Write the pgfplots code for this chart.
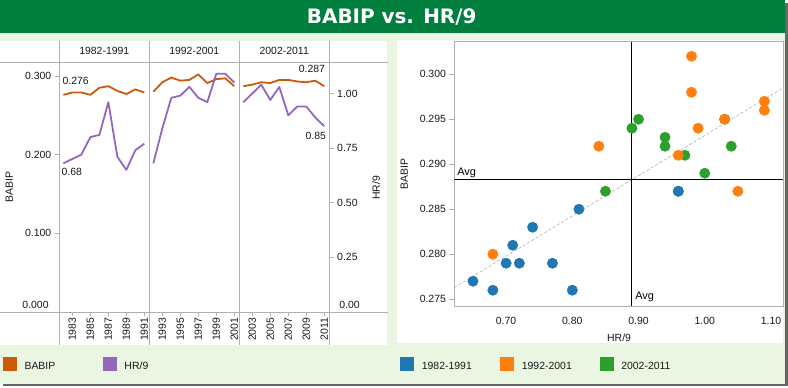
\documentclass[border=0pt]{standalone}
\usepackage{pgfplots}
\usepackage{pgfplotstable}
\pgfplotsset{compat=1.18}
\usepackage{fontspec}
\setmainfont{Liberation Sans}
\newfontfamily\titlefont{DejaVu Sans}

\definecolor{hdr}{RGB}{0,127,62}
\definecolor{bgc}{RGB}{234,246,225}
\definecolor{babipc}{RGB}{204,90,10}
\definecolor{hrc}{RGB}{148,103,189}
\definecolor{tblue}{RGB}{31,119,180}
\definecolor{torange}{RGB}{255,127,14}
\definecolor{tgreen}{RGB}{44,160,44}
\definecolor{linec}{RGB}{176,176,176}
\definecolor{txt}{RGB}{25,25,25}
\definecolor{trend}{RGB}{185,185,185}

\pgfplotstableread{
year babip hr
1982 0.276 0.68
1983 0.279 0.70
1984 0.279 0.72
1985 0.276 0.80
1986 0.285 0.81
1987 0.287 0.96
1988 0.281 0.71
1989 0.277 0.65
1990 0.283 0.74
1991 0.279 0.77
}\dataA
\pgfplotstableread{
year babip hr
1992 0.280 0.68
1993 0.292 0.84
1994 0.298 0.98
1995 0.294 0.99
1996 0.295 1.03
1997 0.302 0.98
1998 0.291 0.96
1999 0.296 1.09
2000 0.297 1.09
2001 0.287 1.05
}\dataB
\pgfplotstableread{
year babip hr
2002 0.287 0.96
2003 0.289 1.00
2004 0.292 1.04
2005 0.291 0.97
2006 0.295 1.03
2007 0.295 0.90
2008 0.293 0.94
2009 0.292 0.94
2010 0.294 0.89
2011 0.287 0.85
}\dataC

\newcommand{\fs}{\fontsize{10.5}{12}\selectfont}

\pgfplotsset{
  facet/.style={scale only axis, width=90bp, height=250bp, anchor=south west,
    ymin=0, axis line style={draw=none}, tick align=outside,
    tick style={linec, line width=0.7bp}, major tick length=4.5bp,
    ticklabel style={font=\fs, text=txt}, clip=false},
  babipax/.style={facet, ymax=0.3178, xtick pos=bottom,
    x tick label style={rotate=90, anchor=east, inner sep=1bp}},
  hrax/.style={facet, ymax=1.144, xtick=\empty},
  bline/.style={babipc, line width=1.8bp, line join=round},
  hline/.style={hrc, line width=1.8bp, line join=round},
}

\begin{document}
\begin{tikzpicture}
% background
\fill[white] (0,0) rectangle (788bp,-388bp);
\fill[bgc] (0,0) rectangle (785bp,-384bp);
\fill[black!60] (785bp,-3bp) rectangle (788bp,-386bp);
\fill[black!60] (3bp,-384bp) rectangle (788bp,-386bp);
\fill[hdr] (0,0) rectangle (785bp,-33bp);
\node[anchor=base, font=\titlefont\bfseries\fontsize{20}{24}\selectfont, text=white, inner sep=0] at (391.5bp,-24bp) {BABIP vs. HR/9};
% panels
\fill[white] (0,-41bp) rectangle (387bp,-345bp);
\fill[white] (397bp,-40bp) rectangle (783.3bp,-343bp);
\draw[linec, line width=0.7bp] (0,-62bp) -- (388bp,-62bp) (0,-312bp) -- (388bp,-312bp);
\foreach \x in {59,149,239,329} \draw[linec, line width=0.7bp] (\x bp,-41bp) -- (\x bp,-345bp);
% facet headers
\foreach \x/\t in {104/1982-1991,194/1992-2001,284/2002-2011}
  \node[anchor=base, font=\fs, text=txt, inner sep=0] at (\x bp,-55bp) {\t};
% axis titles
\node[rotate=90, font=\fs, text=txt] at (9bp,-187.5bp) {BABIP};
\node[rotate=90, font=\fs, text=txt] at (376bp,-188bp) {HR/9};
\node[anchor=base east, font=\fs, text=txt, inner sep=0] at (48.5bp,-309bp) {0.000};
\node[anchor=base west, font=\fs, text=txt, inner sep=0] at (339bp,-309bp) {0.00};

% ---- facet 1
\begin{axis}[babipax, at={(59bp,-312bp)}, xmin=1981.55, xmax=1991.55,
  xtick={1983,1985,1987,1989,1991}, xticklabels={1983,1985,1987,1989,1991},
  ytick={0.1,0.2,0.3}, yticklabels={0.100,0.200,0.300}, ytick pos=left]
\addplot[bline] table[x=year,y=babip]{\dataA};
\node[anchor=south west, inner sep=0, font=\fs, text=txt, yshift=10bp, xshift=-1bp] at (axis cs:1982,0.276) {0.276};
\end{axis}
\begin{axis}[hrax, at={(59bp,-312bp)}, xmin=1981.55, xmax=1991.55, ytick=\empty]
\addplot[hline] table[x=year,y=hr]{\dataA};
\node[anchor=north west, inner sep=0, font=\fs, text=txt, yshift=-5bp, xshift=-2bp] at (axis cs:1982,0.68) {0.68};
\end{axis}
% ---- facet 2
\begin{axis}[babipax, at={(149bp,-312bp)}, xmin=1991.55, xmax=2001.55,
  xtick={1993,1995,1997,1999,2001}, xticklabels={1993,1995,1997,1999,2001},
  ytick=\empty]
\addplot[bline] table[x=year,y=babip]{\dataB};
\end{axis}
\begin{axis}[hrax, at={(149bp,-312bp)}, xmin=1991.55, xmax=2001.55, ytick=\empty]
\addplot[hline] table[x=year,y=hr]{\dataB};
\end{axis}
% ---- facet 3
\begin{axis}[babipax, at={(239bp,-312bp)}, xmin=2001.55, xmax=2011.55,
  xtick={2003,2005,2007,2009,2011}, xticklabels={2003,2005,2007,2009,2011},
  ytick=\empty]
\addplot[bline] table[x=year,y=babip]{\dataC};
\node[anchor=south east, inner sep=0, font=\fs, text=txt, yshift=13bp, xshift=1bp] at (axis cs:2011,0.287) {0.287};
\end{axis}
\begin{axis}[hrax, at={(239bp,-312bp)}, xmin=2001.55, xmax=2011.55,
  ytick={0.25,0.5,0.75,1}, yticklabels={0.25,0.50,0.75,1.00}, ytick pos=right, yticklabel pos=right]
\addplot[hline] table[x=year,y=hr]{\dataC};
\node[anchor=north east, inner sep=0, font=\fs, text=txt, yshift=-5.5bp, xshift=2bp] at (axis cs:2011,0.85) {0.85};
\end{axis}

% ---- scatter
\begin{axis}[scale only axis, at={(454.3bp,-306bp)}, anchor=south west, width=329bp, height=264.3bp,
  xmin=0.622, xmax=1.1186, ymin=0.27426, ymax=0.30362,
  axis line style={linec, line width=0.7bp},
  xtick={0.7,0.8,0.9,1.0,1.1}, xticklabels={0.70,0.80,0.90,1.00,1.10},
  ytick={0.275,0.28,0.285,0.29,0.295,0.3}, yticklabels={0.275,0.280,0.285,0.290,0.295,0.300},
  tick align=outside, ytick pos=left, xtick pos=bottom,
  x tick style={draw=none}, y tick style={linec, line width=0.7bp}, major tick length=5bp,
  ticklabel style={font=\fs, text=txt}, x tick label style={yshift=-2.5bp}]
\addplot[trend, dash pattern=on 3bp off 2bp, line width=0.7bp] coordinates {(0.622,0.2763) (1.1186,0.2985)};
\addplot[black, line width=1bp] coordinates {(0.622,0.28833) (1.1186,0.28833)};
\addplot[black, line width=1bp] coordinates {(0.8899,0.27426) (0.8899,0.30362)};
\addplot[tgreen, only marks, mark=*, mark size=5.2bp] table[x=hr,y=babip]{\dataC};
\addplot[torange, only marks, mark=*, mark size=5.2bp] table[x=hr,y=babip]{\dataB};
\addplot[tblue, only marks, mark=*, mark size=5.2bp] table[x=hr,y=babip]{\dataA};
\end{axis}
\node[anchor=base west, font=\fontsize{11}{13}\selectfont, text=black, inner sep=0] at (457bp,-175.5bp) {Avg};
\node[anchor=base west, font=\fontsize{11}{13}\selectfont, text=black, inner sep=0] at (635bp,-300bp) {Avg};
\node[anchor=base, font=\fs, text=txt, inner sep=0] at (619bp,-342bp) {HR/9};
\node[rotate=90, font=\fs, text=txt] at (404bp,-174bp) {BABIP};

% ---- legend
\fill[babipc] (2.5bp,-357.3bp) rectangle (16.6bp,-370.7bp);
\fill[hrc] (103bp,-357.3bp) rectangle (117bp,-370.7bp);
\fill[tblue] (400bp,-357.3bp) rectangle (414bp,-370.7bp);
\fill[torange] (500bp,-357.3bp) rectangle (514bp,-370.7bp);
\fill[tgreen] (600bp,-357.3bp) rectangle (614bp,-370.7bp);
\foreach \x/\t in {24/BABIP,124/HR\slash 9,421.5/1982-1991,521.5/1992-2001,621/2002-2011}
  \node[anchor=base west, font=\fs, text=txt, inner sep=0] at (\x bp,-369.3bp) {\t};
\end{tikzpicture}
\end{document}
